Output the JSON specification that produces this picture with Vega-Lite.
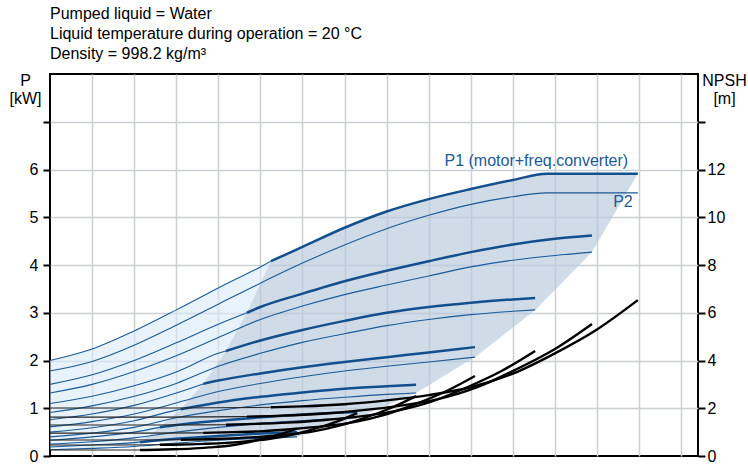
{
"$schema": "https://vega.github.io/schema/vega-lite/v6.json",
"width": 648, "height": 382,
"autosize": "none",
"padding": {"left": 50, "top": 74, "right": 50, "bottom": 17},
"title": {"text": ["Pumped liquid = Water", "Liquid temperature during operation = 20 °C", "Density = 998.2 kg/m³"], "anchor": "start", "frame": "group", "orient": "top", "offset": 10, "dy": 16, "baseline": "bottom", "fontSize": 16, "fontWeight": "normal", "lineHeight": 20, "font": "Liberation Sans", "color": "black"},
"config": {"font": "Liberation Sans", "view": {"stroke": "black", "strokeWidth": 2}},
"datasets": {
"light": [
{"q":0,"top":2.00,"bot":0.13},{"q":1,"top":2.24,"bot":0.16},{"q":2,"top":2.62,"bot":0.20},{"q":2.14,"top":2.68,"bot":0.29},{"q":2.61,"top":2.87,"bot":0.60},{"q":3,"top":3.06,"bot":0.90},{"q":3.11,"top":3.11,"bot":0.98},{"q":3.64,"top":3.35,"bot":1.51},{"q":4,"top":3.52,"bot":1.97},{"q":4.18,"top":3.60,"bot":2.20},{"q":4.68,"top":3.82,"bot":3.00},{"q":5,"top":3.96,"bot":3.61},{"q":5.25,"top":4.08,"bot":4.08}],
"dark": [
{"q":2.14,"top":0.29,"bot":0.29},{"q":2.61,"top":0.60,"bot":0.295},{"q":3.0,"top":0.90,"bot":0.30},{"q":3.11,"top":0.98,"bot":0.303},{"q":3.64,"top":1.51,"bot":0.32},{"q":4.0,"top":1.97,"bot":0.33},{"q":4.18,"top":2.20,"bot":0.34},{"q":4.68,"top":3.00,"bot":0.355},{"q":5.0,"top":3.61,"bot":0.37},{"q":5.25,"top":4.08,"bot":0.38},{"q":5.87,"top":4.33,"bot":0.40},{"q":6.0,"top":4.38,"bot":0.44},{"q":7.0,"top":4.78,"bot":0.72},{"q":7.3,"top":4.88,"bot":0.80},{"q":8.0,"top":5.12,"bot":1.06},{"q":8.7,"top":5.30,"bot":1.32},{"q":9.0,"top":5.38,"bot":1.48},{"q":10.0,"top":5.59,"bot":2.02},{"q":10.1,"top":5.61,"bot":2.07},{"q":11.0,"top":5.78,"bot":2.69},{"q":11.53,"top":5.87,"bot":3.06},{"q":11.8,"top":5.91,"bot":3.30},{"q":12.88,"top":5.91,"bot":4.27},{"q":13.97,"top":5.91,"bot":5.91}],
"labels": [{"t":"P1 (motor+freq.converter)","q":13.74,"v":6.07},{"t":"P2","q":13.85,"v":5.21}],
"curves": [
{"id":"1P1a","w":"n","k":"P","q":0,"v":2.00},{"id":"1P1a","w":"n","k":"P","q":1,"v":2.24},{"id":"1P1a","w":"n","k":"P","q":2,"v":2.62},{"id":"1P1a","w":"n","k":"P","q":3,"v":3.06},{"id":"1P1a","w":"n","k":"P","q":4,"v":3.52},{"id":"1P1a","w":"n","k":"P","q":5,"v":3.96},{"id":"1P1a","w":"n","k":"P","q":5.25,"v":4.08},
{"id":"1P1b","w":"b","k":"P","q":5.25,"v":4.08},{"id":"1P1b","w":"b","k":"P","q":6,"v":4.38},{"id":"1P1b","w":"b","k":"P","q":7,"v":4.78},{"id":"1P1b","w":"b","k":"P","q":8,"v":5.12},{"id":"1P1b","w":"b","k":"P","q":9,"v":5.38},{"id":"1P1b","w":"b","k":"P","q":10,"v":5.59},{"id":"1P1b","w":"b","k":"P","q":11,"v":5.78},{"id":"1P1b","w":"b","k":"P","q":11.8,"v":5.91},{"id":"1P1b","w":"b","k":"P","q":13.97,"v":5.91},
{"id":"1P2","w":"n","k":"P","q":0,"v":1.78},{"id":"1P2","w":"n","k":"P","q":1,"v":1.98},{"id":"1P2","w":"n","k":"P","q":2,"v":2.32},{"id":"1P2","w":"n","k":"P","q":3,"v":2.74},{"id":"1P2","w":"n","k":"P","q":4,"v":3.18},{"id":"1P2","w":"n","k":"P","q":5,"v":3.62},{"id":"1P2","w":"n","k":"P","q":6,"v":4.04},{"id":"1P2","w":"n","k":"P","q":7,"v":4.42},{"id":"1P2","w":"n","k":"P","q":8,"v":4.76},{"id":"1P2","w":"n","k":"P","q":9,"v":5.04},{"id":"1P2","w":"n","k":"P","q":10,"v":5.27},{"id":"1P2","w":"n","k":"P","q":11,"v":5.43},{"id":"1P2","w":"n","k":"P","q":11.8,"v":5.51},{"id":"1P2","w":"n","k":"P","q":13.97,"v":5.51},
{"id":"1Na","w":"n","k":"N","q":0,"v":2.01},{"id":"1Na","w":"n","k":"N","q":3,"v":2.01},{"id":"1Na","w":"n","k":"N","q":5.25,"v":2.04},
{"id":"1Nb","w":"b","k":"N","q":5.25,"v":2.04},{"id":"1Nb","w":"b","k":"N","q":6,"v":2.08},{"id":"1Nb","w":"b","k":"N","q":7,"v":2.17},{"id":"1Nb","w":"b","k":"N","q":8,"v":2.33},{"id":"1Nb","w":"b","k":"N","q":9,"v":2.55},{"id":"1Nb","w":"b","k":"N","q":10,"v":2.88},{"id":"1Nb","w":"b","k":"N","q":11,"v":3.45},{"id":"1Nb","w":"b","k":"N","q":12,"v":4.30},{"id":"1Nb","w":"b","k":"N","q":13,"v":5.30},{"id":"1Nb","w":"b","k":"N","q":13.97,"v":6.53},
{"id":"2P1a","w":"n","k":"P","q":0,"v":1.50},{"id":"2P1a","w":"n","k":"P","q":1,"v":1.70},{"id":"2P1a","w":"n","k":"P","q":2,"v":2.00},{"id":"2P1a","w":"n","k":"P","q":3,"v":2.37},{"id":"2P1a","w":"n","k":"P","q":4,"v":2.76},{"id":"2P1a","w":"n","k":"P","q":4.68,"v":3.00},
{"id":"2P1b","w":"b","k":"P","q":4.68,"v":3.00},{"id":"2P1b","w":"b","k":"P","q":5,"v":3.12},{"id":"2P1b","w":"b","k":"P","q":6,"v":3.40},{"id":"2P1b","w":"b","k":"P","q":7,"v":3.66},{"id":"2P1b","w":"b","k":"P","q":8,"v":3.88},{"id":"2P1b","w":"b","k":"P","q":9,"v":4.08},{"id":"2P1b","w":"b","k":"P","q":10,"v":4.27},{"id":"2P1b","w":"b","k":"P","q":11,"v":4.43},{"id":"2P1b","w":"b","k":"P","q":12,"v":4.55},{"id":"2P1b","w":"b","k":"P","q":12.88,"v":4.62},
{"id":"2P2","w":"n","k":"P","q":0,"v":1.32},{"id":"2P2","w":"n","k":"P","q":1,"v":1.50},{"id":"2P2","w":"n","k":"P","q":2,"v":1.77},{"id":"2P2","w":"n","k":"P","q":3,"v":2.10},{"id":"2P2","w":"n","k":"P","q":4,"v":2.48},{"id":"2P2","w":"n","k":"P","q":5,"v":2.86},{"id":"2P2","w":"n","k":"P","q":6,"v":3.14},{"id":"2P2","w":"n","k":"P","q":7,"v":3.38},{"id":"2P2","w":"n","k":"P","q":8,"v":3.58},{"id":"2P2","w":"n","k":"P","q":9,"v":3.77},{"id":"2P2","w":"n","k":"P","q":10,"v":3.96},{"id":"2P2","w":"n","k":"P","q":11,"v":4.10},{"id":"2P2","w":"n","k":"P","q":12,"v":4.20},{"id":"2P2","w":"n","k":"P","q":12.88,"v":4.27},
{"id":"2Na","w":"n","k":"N","q":0,"v":1.63},{"id":"2Na","w":"n","k":"N","q":2.77,"v":1.63},{"id":"2Na","w":"n","k":"N","q":4.68,"v":1.65},
{"id":"2Nb","w":"b","k":"N","q":4.68,"v":1.65},{"id":"2Nb","w":"b","k":"N","q":5.53,"v":1.69},{"id":"2Nb","w":"b","k":"N","q":6.45,"v":1.77},{"id":"2Nb","w":"b","k":"N","q":7.38,"v":1.91},{"id":"2Nb","w":"b","k":"N","q":8.30,"v":2.10},{"id":"2Nb","w":"b","k":"N","q":9.22,"v":2.38},{"id":"2Nb","w":"b","k":"N","q":10.14,"v":2.87},{"id":"2Nb","w":"b","k":"N","q":11.06,"v":3.61},{"id":"2Nb","w":"b","k":"N","q":11.99,"v":4.47},{"id":"2Nb","w":"b","k":"N","q":12.88,"v":5.53},
{"id":"3P1a","w":"n","k":"P","q":0,"v":1.10},{"id":"3P1a","w":"n","k":"P","q":1,"v":1.25},{"id":"3P1a","w":"n","k":"P","q":2,"v":1.47},{"id":"3P1a","w":"n","k":"P","q":3,"v":1.76},{"id":"3P1a","w":"n","k":"P","q":4,"v":2.15},{"id":"3P1a","w":"n","k":"P","q":4.18,"v":2.20},
{"id":"3P1b","w":"b","k":"P","q":4.18,"v":2.20},{"id":"3P1b","w":"b","k":"P","q":5,"v":2.42},{"id":"3P1b","w":"b","k":"P","q":6,"v":2.64},{"id":"3P1b","w":"b","k":"P","q":7,"v":2.83},{"id":"3P1b","w":"b","k":"P","q":8,"v":3.00},{"id":"3P1b","w":"b","k":"P","q":9,"v":3.12},{"id":"3P1b","w":"b","k":"P","q":10,"v":3.21},{"id":"3P1b","w":"b","k":"P","q":11,"v":3.28},{"id":"3P1b","w":"b","k":"P","q":11.53,"v":3.31},
{"id":"3P2","w":"n","k":"P","q":0,"v":0.91},{"id":"3P2","w":"n","k":"P","q":1,"v":1.05},{"id":"3P2","w":"n","k":"P","q":2,"v":1.25},{"id":"3P2","w":"n","k":"P","q":3,"v":1.52},{"id":"3P2","w":"n","k":"P","q":4,"v":1.88},{"id":"3P2","w":"n","k":"P","q":5,"v":2.15},{"id":"3P2","w":"n","k":"P","q":6,"v":2.38},{"id":"3P2","w":"n","k":"P","q":7,"v":2.56},{"id":"3P2","w":"n","k":"P","q":8,"v":2.73},{"id":"3P2","w":"n","k":"P","q":9,"v":2.86},{"id":"3P2","w":"n","k":"P","q":10,"v":2.96},{"id":"3P2","w":"n","k":"P","q":11,"v":3.03},{"id":"3P2","w":"n","k":"P","q":11.53,"v":3.06},
{"id":"3Na","w":"n","k":"N","q":0,"v":1.30},{"id":"3Na","w":"n","k":"N","q":2.48,"v":1.30},{"id":"3Na","w":"n","k":"N","q":4.18,"v":1.31},
{"id":"3Nb","w":"b","k":"N","q":4.18,"v":1.31},{"id":"3Nb","w":"b","k":"N","q":4.95,"v":1.35},{"id":"3Nb","w":"b","k":"N","q":5.78,"v":1.41},{"id":"3Nb","w":"b","k":"N","q":6.60,"v":1.52},{"id":"3Nb","w":"b","k":"N","q":7.43,"v":1.67},{"id":"3Nb","w":"b","k":"N","q":8.25,"v":1.90},{"id":"3Nb","w":"b","k":"N","q":9.08,"v":2.29},{"id":"3Nb","w":"b","k":"N","q":9.90,"v":2.87},{"id":"3Nb","w":"b","k":"N","q":10.73,"v":3.56},{"id":"3Nb","w":"b","k":"N","q":11.53,"v":4.40},
{"id":"4P1a","w":"n","k":"P","q":0,"v":0.76},{"id":"4P1a","w":"n","k":"P","q":1,"v":0.88},{"id":"4P1a","w":"n","k":"P","q":2,"v":1.06},{"id":"4P1a","w":"n","k":"P","q":3,"v":1.32},{"id":"4P1a","w":"n","k":"P","q":3.64,"v":1.51},
{"id":"4P1b","w":"b","k":"P","q":3.64,"v":1.51},{"id":"4P1b","w":"b","k":"P","q":4,"v":1.58},{"id":"4P1b","w":"b","k":"P","q":5,"v":1.73},{"id":"4P1b","w":"b","k":"P","q":6,"v":1.86},{"id":"4P1b","w":"b","k":"P","q":7,"v":1.97},{"id":"4P1b","w":"b","k":"P","q":8,"v":2.07},{"id":"4P1b","w":"b","k":"P","q":9,"v":2.17},{"id":"4P1b","w":"b","k":"P","q":10.1,"v":2.28},
{"id":"4P2","w":"n","k":"P","q":0,"v":0.61},{"id":"4P2","w":"n","k":"P","q":1,"v":0.72},{"id":"4P2","w":"n","k":"P","q":2,"v":0.88},{"id":"4P2","w":"n","k":"P","q":3,"v":1.11},{"id":"4P2","w":"n","k":"P","q":4,"v":1.35},{"id":"4P2","w":"n","k":"P","q":5,"v":1.52},{"id":"4P2","w":"n","k":"P","q":6,"v":1.66},{"id":"4P2","w":"n","k":"P","q":7,"v":1.78},{"id":"4P2","w":"n","k":"P","q":8,"v":1.88},{"id":"4P2","w":"n","k":"P","q":9,"v":1.97},{"id":"4P2","w":"n","k":"P","q":10.1,"v":2.07},
{"id":"4Na","w":"n","k":"N","q":0,"v":0.96},{"id":"4Na","w":"n","k":"N","q":2.17,"v":0.96},{"id":"4Na","w":"n","k":"N","q":3.64,"v":0.97},
{"id":"4Nb","w":"b","k":"N","q":3.64,"v":0.97},{"id":"4Nb","w":"b","k":"N","q":4.34,"v":1.00},{"id":"4Nb","w":"b","k":"N","q":5.06,"v":1.04},{"id":"4Nb","w":"b","k":"N","q":5.78,"v":1.13},{"id":"4Nb","w":"b","k":"N","q":6.51,"v":1.25},{"id":"4Nb","w":"b","k":"N","q":7.23,"v":1.42},{"id":"4Nb","w":"b","k":"N","q":7.95,"v":1.72},{"id":"4Nb","w":"b","k":"N","q":8.68,"v":2.17},{"id":"4Nb","w":"b","k":"N","q":9.40,"v":2.70},{"id":"4Nb","w":"b","k":"N","q":10.1,"v":3.35},
{"id":"5P1a","w":"n","k":"P","q":0,"v":0.50},{"id":"5P1a","w":"n","k":"P","q":1,"v":0.59},{"id":"5P1a","w":"n","k":"P","q":2,"v":0.74},{"id":"5P1a","w":"n","k":"P","q":3,"v":0.96},{"id":"5P1a","w":"n","k":"P","q":3.11,"v":0.98},
{"id":"5P1b","w":"b","k":"P","q":3.11,"v":0.98},{"id":"5P1b","w":"b","k":"P","q":4,"v":1.12},{"id":"5P1b","w":"b","k":"P","q":5,"v":1.24},{"id":"5P1b","w":"b","k":"P","q":6,"v":1.33},{"id":"5P1b","w":"b","k":"P","q":7,"v":1.41},{"id":"5P1b","w":"b","k":"P","q":8,"v":1.46},{"id":"5P1b","w":"b","k":"P","q":8.7,"v":1.49},
{"id":"5P2","w":"n","k":"P","q":0,"v":0.40},{"id":"5P2","w":"n","k":"P","q":1,"v":0.48},{"id":"5P2","w":"n","k":"P","q":2,"v":0.60},{"id":"5P2","w":"n","k":"P","q":3,"v":0.80},{"id":"5P2","w":"n","k":"P","q":4,"v":0.95},{"id":"5P2","w":"n","k":"P","q":5,"v":1.07},{"id":"5P2","w":"n","k":"P","q":6,"v":1.16},{"id":"5P2","w":"n","k":"P","q":7,"v":1.23},{"id":"5P2","w":"n","k":"P","q":8,"v":1.29},{"id":"5P2","w":"n","k":"P","q":8.7,"v":1.32},
{"id":"5Na","w":"n","k":"N","q":0,"v":0.67},{"id":"5Na","w":"n","k":"N","q":1.87,"v":0.67},{"id":"5Na","w":"n","k":"N","q":3.11,"v":0.68},
{"id":"5Nb","w":"b","k":"N","q":3.11,"v":0.68},{"id":"5Nb","w":"b","k":"N","q":3.74,"v":0.70},{"id":"5Nb","w":"b","k":"N","q":4.36,"v":0.74},{"id":"5Nb","w":"b","k":"N","q":4.98,"v":0.80},{"id":"5Nb","w":"b","k":"N","q":5.61,"v":0.89},{"id":"5Nb","w":"b","k":"N","q":6.23,"v":1.02},{"id":"5Nb","w":"b","k":"N","q":6.85,"v":1.26},{"id":"5Nb","w":"b","k":"N","q":7.48,"v":1.60},{"id":"5Nb","w":"b","k":"N","q":8.10,"v":2.01},{"id":"5Nb","w":"b","k":"N","q":8.70,"v":2.51},
{"id":"6P1a","w":"n","k":"P","q":0,"v":0.33},{"id":"6P1a","w":"n","k":"P","q":1,"v":0.40},{"id":"6P1a","w":"n","k":"P","q":2,"v":0.50},{"id":"6P1a","w":"n","k":"P","q":2.61,"v":0.60},
{"id":"6P1b","w":"b","k":"P","q":2.61,"v":0.60},{"id":"6P1b","w":"b","k":"P","q":3,"v":0.65},{"id":"6P1b","w":"b","k":"P","q":4,"v":0.74},{"id":"6P1b","w":"b","k":"P","q":5,"v":0.81},{"id":"6P1b","w":"b","k":"P","q":6,"v":0.87},{"id":"6P1b","w":"b","k":"P","q":7,"v":0.91},{"id":"6P1b","w":"b","k":"P","q":7.3,"v":0.92},
{"id":"6P2","w":"n","k":"P","q":0,"v":0.25},{"id":"6P2","w":"n","k":"P","q":1,"v":0.30},{"id":"6P2","w":"n","k":"P","q":2,"v":0.38},{"id":"6P2","w":"n","k":"P","q":3,"v":0.50},{"id":"6P2","w":"n","k":"P","q":4,"v":0.60},{"id":"6P2","w":"n","k":"P","q":5,"v":0.68},{"id":"6P2","w":"n","k":"P","q":6,"v":0.74},{"id":"6P2","w":"n","k":"P","q":7,"v":0.79},{"id":"6P2","w":"n","k":"P","q":7.3,"v":0.80},
{"id":"6Na","w":"n","k":"N","q":0,"v":0.46},{"id":"6Na","w":"n","k":"N","q":1.57,"v":0.46},{"id":"6Na","w":"n","k":"N","q":2.61,"v":0.47},
{"id":"6Nb","w":"b","k":"N","q":2.61,"v":0.47},{"id":"6Nb","w":"b","k":"N","q":3.14,"v":0.48},{"id":"6Nb","w":"b","k":"N","q":3.66,"v":0.51},{"id":"6Nb","w":"b","k":"N","q":4.18,"v":0.55},{"id":"6Nb","w":"b","k":"N","q":4.71,"v":0.62},{"id":"6Nb","w":"b","k":"N","q":5.23,"v":0.72},{"id":"6Nb","w":"b","k":"N","q":5.75,"v":0.89},{"id":"6Nb","w":"b","k":"N","q":6.28,"v":1.14},{"id":"6Nb","w":"b","k":"N","q":6.80,"v":1.43},{"id":"6Nb","w":"b","k":"N","q":7.30,"v":1.80},
{"id":"7P1a","w":"n","k":"P","q":0,"v":0.19},{"id":"7P1a","w":"n","k":"P","q":1,"v":0.23},{"id":"7P1a","w":"n","k":"P","q":2,"v":0.28},{"id":"7P1a","w":"n","k":"P","q":2.14,"v":0.29},
{"id":"7P1b","w":"b","k":"P","q":2.14,"v":0.29},{"id":"7P1b","w":"b","k":"P","q":3,"v":0.36},{"id":"7P1b","w":"b","k":"P","q":4,"v":0.42},{"id":"7P1b","w":"b","k":"P","q":5,"v":0.47},{"id":"7P1b","w":"b","k":"P","q":5.87,"v":0.50},
{"id":"7P2","w":"n","k":"P","q":0,"v":0.13},{"id":"7P2","w":"n","k":"P","q":1,"v":0.16},{"id":"7P2","w":"n","k":"P","q":2,"v":0.20},{"id":"7P2","w":"n","k":"P","q":3,"v":0.27},{"id":"7P2","w":"n","k":"P","q":4,"v":0.33},{"id":"7P2","w":"n","k":"P","q":5,"v":0.37},{"id":"7P2","w":"n","k":"P","q":5.87,"v":0.40},
{"id":"7Na","w":"n","k":"N","q":0,"v":0.25},{"id":"7Na","w":"n","k":"N","q":1.26,"v":0.25},{"id":"7Na","w":"n","k":"N","q":2.14,"v":0.25},
{"id":"7Nb","w":"b","k":"N","q":2.14,"v":0.25},{"id":"7Nb","w":"b","k":"N","q":2.52,"v":0.26},{"id":"7Nb","w":"b","k":"N","q":2.94,"v":0.28},{"id":"7Nb","w":"b","k":"N","q":3.36,"v":0.31},{"id":"7Nb","w":"b","k":"N","q":3.78,"v":0.36},{"id":"7Nb","w":"b","k":"N","q":4.20,"v":0.42},{"id":"7Nb","w":"b","k":"N","q":4.62,"v":0.54},{"id":"7Nb","w":"b","k":"N","q":5.04,"v":0.71},{"id":"7Nb","w":"b","k":"N","q":5.46,"v":0.90},{"id":"7Nb","w":"b","k":"N","q":5.87,"v":1.15}
]
},
"layer": [
{
"layer": [
{"data": {"name": "light"},
 "mark": {"type": "area", "interpolate": "monotone", "fill": "#d9e9f8", "fillOpacity": 0.6},
 "encoding": {
  "x": {"field": "q", "type": "quantitative", "scale": {"domain": [0, 15.4], "nice": false, "zero": false},
        "axis": {"orient": "bottom", "values": [0,1,2,3,4,5,6,7,8,9,10,11,12,13,14,15], "labels": false, "ticks": false, "domain": false, "title": null, "grid": true, "gridColor": "#ccd0d4", "gridWidth": 1.5, "gridOpacity": {"condition": {"test": "datum.value == 0", "value": 0}, "value": 1}}},
  "y": {"field": "top", "type": "quantitative", "scale": {"domain": [0, 8], "nice": false, "zero": true},
        "axis": {"orient": "left", "values": [0,1,2,3,4,5,6,7], "labelExpr": "datum.value <= 6 ? datum.label : ''", "title": ["P", "[kW]"], "titleAngle": 0, "titleAlign": "center", "titleBaseline": "alphabetic", "titleX": -25, "titleY": 11, "titleLineHeight": 18, "titleFontSize": 16, "titleFontWeight": "normal", "titleColor": "black", "titleFont": "Liberation Sans", "labelFont": "Liberation Sans", "labelFontSize": 16, "labelColor": "black", "labelPadding": 5, "tickSize": 7, "tickWidth": 2, "tickColor": "black", "domain": false, "grid": true, "gridColor": "#ccd0d4", "gridWidth": 1.5, "gridOpacity": {"condition": {"test": "datum.value == 0", "value": 0}, "value": 1}}},
  "y2": {"field": "bot"}
 }},
{"data": {"name": "dark"},
 "mark": {"type": "area", "interpolate": "linear", "fill": "#b7c9db", "fillOpacity": 0.67},
 "encoding": {
  "x": {"field": "q", "type": "quantitative"},
  "y": {"field": "top", "type": "quantitative"},
  "y2": {"field": "bot"}
 }},
{"data": {"name": "curves"},
 "transform": [{"filter": "datum.k == 'P' && datum.w == 'n'"}],
 "mark": {"type": "line", "interpolate": "monotone", "stroke": "#1b5a96", "strokeWidth": 1.1},
 "encoding": {
  "x": {"field": "q", "type": "quantitative"},
  "y": {"field": "v", "type": "quantitative"},
  "detail": {"field": "id", "type": "nominal"}
 }},
{"data": {"name": "curves"},
 "transform": [{"filter": "datum.k == 'P' && datum.w == 'b'"}],
 "mark": {"type": "line", "interpolate": "monotone", "stroke": "#134f8c", "strokeWidth": 2.5},
 "encoding": {
  "x": {"field": "q", "type": "quantitative"},
  "y": {"field": "v", "type": "quantitative"},
  "detail": {"field": "id", "type": "nominal"}
 }},
{"data": {"name": "labels"},
 "mark": {"type": "text", "align": "right", "baseline": "alphabetic", "fontSize": 16, "font": "Liberation Sans", "color": "#1b5a96"},
 "encoding": {
  "x": {"field": "q", "type": "quantitative"},
  "y": {"field": "v", "type": "quantitative"},
  "text": {"field": "t"}
 }}
]
},
{
"layer": [
{"data": {"name": "curves"},
 "transform": [{"filter": "datum.k == 'N' && datum.w == 'n'"}],
 "mark": {"type": "line", "interpolate": "monotone", "stroke": "#222222", "strokeWidth": 1.1},
 "encoding": {
  "x": {"field": "q", "type": "quantitative"},
  "y": {"field": "v", "type": "quantitative", "scale": {"domain": [0, 16], "nice": false, "zero": true},
        "axis": {"orient": "right", "values": [0,2,4,6,8,10,12,14], "labelExpr": "datum.value <= 12 ? datum.label : ''", "title": ["NPSH", "[m]"], "titleAngle": 0, "titleAlign": "center", "titleBaseline": "alphabetic", "titleX": 26, "titleY": 11, "titleLineHeight": 18, "titleFontSize": 16, "titleFontWeight": "normal", "titleColor": "black", "titleFont": "Liberation Sans", "labelFont": "Liberation Sans", "labelFontSize": 16, "labelColor": "black", "labelPadding": 2, "tickSize": 7, "tickWidth": 2, "tickColor": "black", "domain": false, "grid": false}},
  "detail": {"field": "id", "type": "nominal"}
 }},
{"data": {"name": "curves"},
 "transform": [{"filter": "datum.k == 'N' && datum.w == 'b'"}],
 "mark": {"type": "line", "interpolate": "monotone", "stroke": "#000000", "strokeWidth": 2.4},
 "encoding": {
  "x": {"field": "q", "type": "quantitative"},
  "y": {"field": "v", "type": "quantitative"},
  "detail": {"field": "id", "type": "nominal"}
 }}
]
}
],
"resolve": {"scale": {"y": "independent"}, "axis": {"y": "independent"}}
}
